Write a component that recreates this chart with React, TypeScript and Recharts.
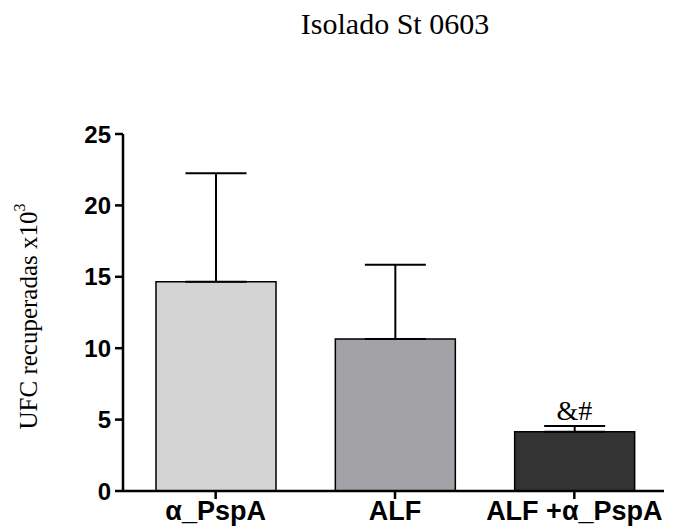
import React from "react";
import { BarChart, Bar, XAxis, YAxis, ErrorBar, Cell, ReferenceDot } from "recharts";

const categories = ["α_PspA", "ALF", "ALF +α_PspA"];
const means = [14.65, 10.65, 4.15];
const errUp = [7.6, 5.2, 0.4];
const colors = ["#d4d4d4", "#a3a2a6", "#333333"];
const yTicks = [0, 5, 10, 15, 20, 25];
const marks = [{ category: "ALF +α_PspA", y: 4.55, text: "&#" }];

const data = categories.map((c, i) => ({ name: c, value: means[i], err: [0, errUp[i]] }));

const serif = "'Liberation Serif', 'Times New Roman', serif";
const sans = "'Liberation Sans', Arial, sans-serif";

const YLabel = (props: any) => {
  const vb = props.viewBox || {};
  const cx = 28;
  const cy = vb.y + vb.height / 2 + 4;
  return (
    <text
      x={cx}
      y={cy}
      transform={`rotate(-90, ${cx}, ${cy})`}
      textAnchor="middle"
      dominantBaseline="central"
      fontFamily={serif}
      fontSize={25}
      fill="#000"
    >
      UFC recuperadas x10
      <tspan dy={-9} fontSize={16}>3</tspan>
    </text>
  );
};

export default function App() {
  return (
    <div style={{ position: "absolute", left: 0, top: 0, width: 673, height: 531, background: "#fff" }}>
      <div
        style={{
          position: "absolute",
          left: 245,
          width: 300,
          top: 8,
          textAlign: "center",
          fontFamily: serif,
          fontSize: 30,
          color: "#000",
          lineHeight: "32px",
        }}
      >
        Isolado St 0603
      </div>
      <BarChart
        width={673}
        height={531}
        data={data}
        margin={{ top: 134, right: 9, bottom: 0, left: 0 }}
        barSize={120}
      >
        <XAxis
          dataKey="name"
          height={40}
          padding={{ left: 3, right: 0 }}
          axisLine={{ stroke: "#000", strokeWidth: 2.5 }}
          tickLine={{ stroke: "#000", strokeWidth: 2.5 }}
          tickSize={8}
          tick={{ fill: "#000", fontFamily: sans, fontWeight: "bold", fontSize: 27 }}
          interval={0}
        />
        <YAxis
          width={123}
          domain={[0, 25]}
          ticks={yTicks}
          interval={0}
          axisLine={{ stroke: "#000", strokeWidth: 2.5 }}
          tickLine={{ stroke: "#000", strokeWidth: 2.5 }}
          tickSize={8}
          tickMargin={4}
          tick={{ fill: "#000", fontFamily: sans, fontWeight: "bold", fontSize: 24 }}
          label={<YLabel />}
        />
        <Bar dataKey="value" stroke="#000" strokeWidth={1.5} isAnimationActive={false}>
          {data.map((d, i) => (
            <Cell key={d.name} fill={colors[i]} />
          ))}
          <ErrorBar dataKey="err" width={30.5} stroke="#000" strokeWidth={2} direction="y" />
        </Bar>
        {marks.map((m) => (
          <ReferenceDot
            key={m.category}
            x={m.category}
            y={m.y}
            r={0}
            fill="none"
            stroke="none"
            label={{ value: m.text, position: "top", offset: 6, fontFamily: serif, fontSize: 28, fill: "#000" }}
          />
        ))}
      </BarChart>
    </div>
  );
}
